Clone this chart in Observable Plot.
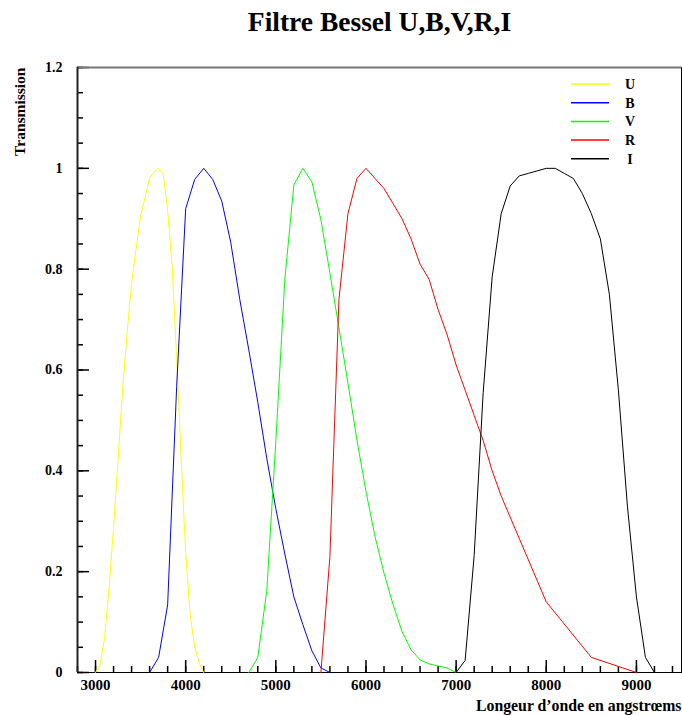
<!DOCTYPE html>
<html>
<head>
<meta charset="utf-8">
<script src="https://cdn.jsdelivr.net/npm/d3@7"></script>
<script src="https://cdn.jsdelivr.net/npm/@observablehq/plot@0.6"></script>
<style>
  html, body { margin: 0; padding: 0; background: #fff; }
  #chart { width: 682px; height: 715px; }
</style>
</head>
<body>
<div id="chart"></div>
<script>
// ---- Data (Bessel 1990 passbands) ----
const uWave = [3000,3050,3100,3150,3200,3250,3300,3350,3400,3450,3500,3550,3600,3650,3700,3750,3800,3850,3900,3950,4000,4050,4100,4150,4200];
const uTrans = [0,0.016,0.068,0.167,0.287,0.423,0.560,0.673,0.772,0.841,0.905,0.943,0.981,0.993,1.000,0.989,0.916,0.804,0.625,0.423,0.238,0.114,0.051,0.019,0];

const bWave = [3600,3700,3800,3900,4000,4100,4200,4300,4400,4500,4600,4700,4800,4900,5000,5100,5200,5300,5400,5500,5600];
const bTrans = [0,0.030,0.134,0.567,0.920,0.978,1.000,0.978,0.935,0.853,0.740,0.640,0.536,0.424,0.325,0.235,0.150,0.095,0.043,0.009,0];

const vWave = [4700,4800,4900,5000,5100,5200,5300,5400,5500,5600,5700,5800,5900,6000,6100,6200,6300,6400,6500,6600,6700,6800,6900,7000];
const vTrans = [0,0.030,0.163,0.458,0.780,0.967,1.000,0.973,0.898,0.792,0.684,0.574,0.461,0.359,0.270,0.197,0.135,0.081,0.045,0.025,0.017,0.013,0.009,0];

const rWave = [5500,5600,5700,5800,5900,6000,6100,6200,6300,6400,6500,6600,6700,6800,6900,7000,7100,7200,7300,7400,7500,8000,8500,9000];
const rTrans = [0,0.23,0.74,0.91,0.98,1.00,0.98,0.96,0.93,0.90,0.86,0.81,0.78,0.72,0.67,0.61,0.56,0.51,0.46,0.40,0.35,0.14,0.03,0];

const iWave = [7000,7100,7200,7300,7400,7500,7600,7700,7800,7900,8000,8100,8200,8300,8400,8500,8600,8700,8800,8900,9000,9100,9200];
const iTrans = [0,0.024,0.232,0.555,0.785,0.910,0.965,0.985,0.990,0.995,1.000,1.000,0.990,0.980,0.950,0.910,0.860,0.750,0.560,0.330,0.150,0.030,0];

const seriesNames = ["U", "B", "V", "R", "I"];
const seriesColors = ["#ffff00", "#0000ff", "#00ff00", "#ff0000", "#000000"];

const xDomain = [2800, 9500];
const yDomain = [0, 1.2];
const xTickValues = [3000, 4000, 5000, 6000, 7000, 8000, 9000];
const xMinorValues = d3.range(2800, 9500, 200);
const yTickValues = [0, 0.2, 0.4, 0.6, 0.8, 1, 1.2];
const yMinorValues = d3.range(0, 25).map(i => i / 20);

const titleText = "Filtre Bessel U,B,V,R,I";
const xLabel = "Longeur d\u2019onde en angstr\u0153ms";
const yLabel = "Transmission";

// ---- Build table ----
const waves = [uWave, bWave, vWave, rWave, iWave];
const trans = [uTrans, bTrans, vTrans, rTrans, iTrans];
const rows = [];
seriesNames.forEach((name, s) => {
  waves[s].forEach((w, i) => rows.push({band: name, wave: w, t: trans[s][i]}));
});

const W = 682, H = 715;
const mL = 77, mR = 1, mT = 67, mB = 43;
const frameW = W - mL - mR, frameH = H - mT - mB;
const majorLen = 12, minorLen = 6;

const chart = Plot.plot({
  width: W,
  height: H,
  marginLeft: mL,
  marginRight: mR,
  marginTop: mT,
  marginBottom: mB,
  style: {fontFamily: "'Liberation Serif', 'Times New Roman', serif", fontWeight: "bold", fontSize: "14px", background: "#fff", color: "#000"},
  x: {domain: xDomain, axis: null},
  y: {domain: yDomain, axis: null},
  color: {domain: seriesNames, range: seriesColors},
  marks: [
    // inward ticks
    Plot.tickX(xMinorValues, {x: d => d, stroke: "#000", strokeWidth: 1.5, insetTop: frameH - minorLen}),
    Plot.tickX(xTickValues, {x: d => d, stroke: "#000", strokeWidth: 1.5, insetTop: frameH - majorLen}),
    Plot.tickY(yMinorValues, {y: d => d, stroke: "#000", strokeWidth: 1.5, insetRight: frameW - minorLen}),
    Plot.tickY(yTickValues, {y: d => d, stroke: "#000", strokeWidth: 1.5, insetRight: frameW - majorLen}),
    // frame
    Plot.frame({stroke: "#000", strokeWidth: 1}),
    Plot.ruleY([yDomain[1]], {stroke: "#777", strokeWidth: 2}),
    Plot.ruleX([xDomain[0]], {stroke: "#222", strokeWidth: 2}),
    // tick labels
    Plot.axisX(xTickValues, {anchor: "bottom", tickSize: 0, tickPadding: 7, fontSize: 15, label: null, tickFormat: d => String(d)}),
    Plot.axisY(yTickValues, {anchor: "left", tickSize: 0, tickPadding: 15, fontSize: 14, label: null, tickFormat: d => String(d)}),
    // titles
    Plot.text([titleText], {frameAnchor: "top", lineAnchor: "bottom", dy: -37, fontSize: 27.5, fontWeight: "bold"}),
    Plot.text([yLabel], {frameAnchor: "top-left", rotate: -90, textAnchor: "end", lineAnchor: "bottom", dx: -53, fontSize: 15.5, fontWeight: "bold"}),
    Plot.text([xLabel], {frameAnchor: "bottom-right", textAnchor: "end", lineAnchor: "bottom", dy: 38, dx: 0, fontSize: 15.8, fontWeight: "bold"}),
    // curves
    Plot.line(rows, {x: "wave", y: "t", z: "band", stroke: "band", strokeWidth: 1, curve: "linear"})
  ]
});

// ---- Legend (top-right, inside frame) ----
const svg = d3.select(chart);
const leg = svg.append("g").attr("class", "legend");
const legX1 = 571, legX2 = 609, legTextX = 630, legY0 = 84, legStep = 18.7;
seriesNames.forEach((name, i) => {
  const y = legY0 + i * legStep;
  leg.append("line")
    .attr("x1", legX1).attr("x2", legX2)
    .attr("y1", y).attr("y2", y)
    .attr("stroke", seriesColors[i])
    .attr("stroke-width", 1.5);
  leg.append("text")
    .attr("x", legTextX).attr("y", y)
    .attr("dy", "0.35em")
    .attr("font-size", 14)
    .attr("font-weight", "bold")
    .attr("fill", "#000")
    .text(name);
});

document.getElementById("chart").appendChild(chart);
</script>
</body>
</html>
